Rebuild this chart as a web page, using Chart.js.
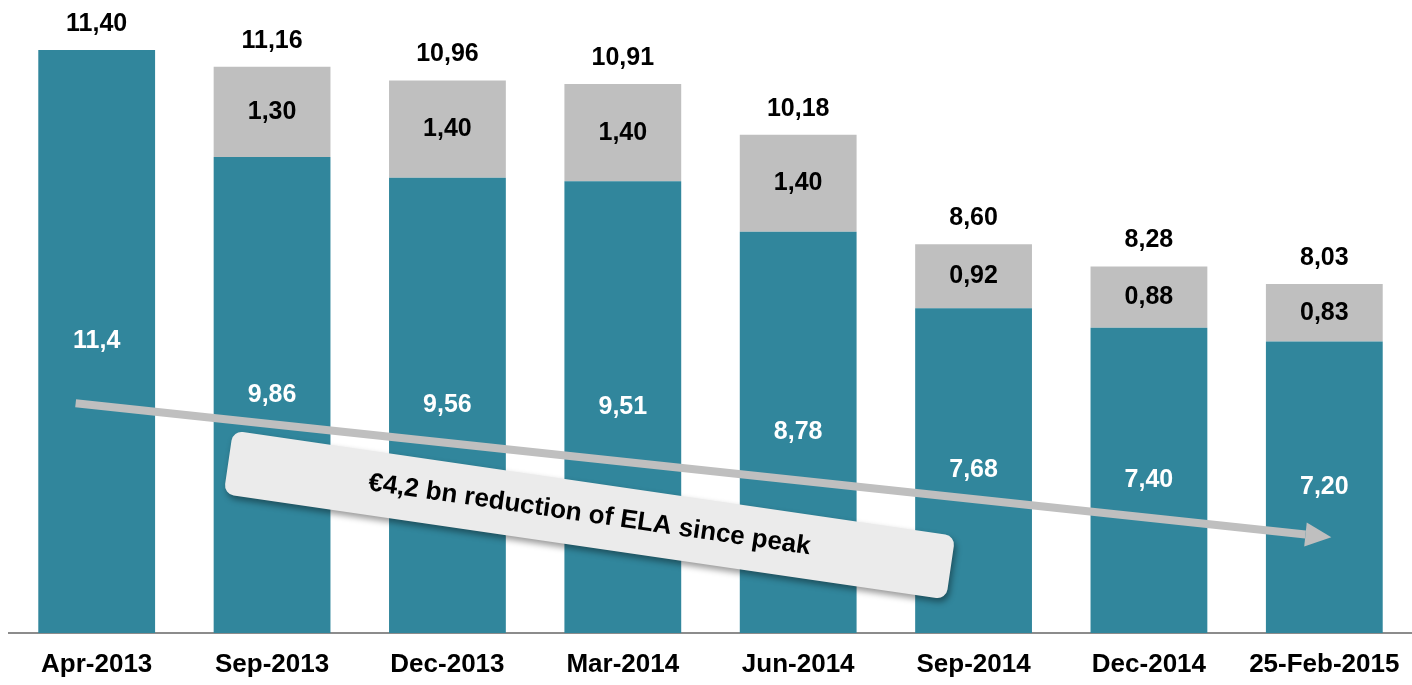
<!DOCTYPE html>
<html>
<head>
<meta charset="utf-8">
<script src="https://cdn.jsdelivr.net/npm/chart.js@4.4.1/dist/chart.umd.min.js"></script>
<style>
  html, body { margin: 0; padding: 0; background: #fff; }
  #wrap { width: 1412px; height: 685px; }
</style>
</head>
<body>
<div id="wrap"><canvas id="elaChart"></canvas></div>
<script>
// dados do gráfico (bn EUR)
const categories = ['Apr-2013', 'Sep-2013', 'Dec-2013', 'Mar-2014', 'Jun-2014', 'Sep-2014', 'Dec-2014', '25-Feb-2015'];
const tealValues = [11.4, 9.86, 9.56, 9.51, 8.78, 7.68, 7.40, 7.20];
const greyValues = [0, 1.30, 1.40, 1.40, 1.40, 0.92, 0.88, 0.83];
const tealDecimals = [1, 2, 2, 2, 2, 2, 2, 2];
const calloutText = '€4,2 bn reduction of ELA since peak';

const FONT = '"Liberation Sans", Arial, Helvetica, sans-serif';
const TEAL = '#31869c';
const GREY = '#bfbfbf';

function fmt(v, d) {
    return v.toFixed(d).replace('.', ',');
}

// rótulos das barras
const barLabels = {
    id: 'barLabels',
    afterDatasetsDraw(chart) {
        const ctx = chart.ctx;
        const bottom = chart.chartArea.bottom;
        const teal = chart.getDatasetMeta(0).data;
        const grey = chart.getDatasetMeta(1).data;
        ctx.save();
        ctx.textAlign = 'center';
        ctx.textBaseline = 'middle';
        ctx.font = 'bold 25px ' + FONT;
        teal.forEach((bar, i) => {
            ctx.fillStyle = '#fff';
            ctx.fillText(fmt(tealValues[i], tealDecimals[i]), bar.x, (bar.y + Math.min(bar.base, bottom)) / 2);
            const g = grey[i];
            ctx.fillStyle = '#000';
            if (greyValues[i] > 0) {
                ctx.fillText(fmt(greyValues[i], 2), g.x, (g.y + g.base) / 2);
            }
            const top = greyValues[i] > 0 ? g.y : bar.y;
            ctx.fillText(fmt(tealValues[i] + greyValues[i], 2), bar.x, top - 26);
        });
        ctx.restore();
    }
};

// seta e caixa de destaque
const trendCallout = {
    id: 'trendCallout',
    afterDraw(chart) {
        const ctx = chart.ctx;
        const x = chart.scales.x;
        const y = chart.scales.y;
        const x1 = x.getPixelForValue(-0.12), y1 = y.getPixelForValue(6.31);
        const x2 = x.getPixelForValue(7.04), y2 = y.getPixelForValue(4.38);
        const ang = Math.atan2(y2 - y1, x2 - x1);
        const headLen = 26, headW = 12;

        ctx.save();
        ctx.strokeStyle = GREY;
        ctx.fillStyle = GREY;
        ctx.lineWidth = 8;
        ctx.beginPath();
        ctx.moveTo(x1, y1);
        ctx.lineTo(x2 - headLen * Math.cos(ang), y2 - headLen * Math.sin(ang));
        ctx.stroke();
        ctx.translate(x2, y2);
        ctx.rotate(ang);
        ctx.beginPath();
        ctx.moveTo(0, 0);
        ctx.lineTo(-headLen, -headW);
        ctx.lineTo(-headLen, headW);
        ctx.closePath();
        ctx.fill();
        ctx.restore();

        // caixa
        const cx = x.getPixelForValue(2.81), cy = y.getPixelForValue(4.70);
        const w = 730, h = 64, r = 10;
        ctx.save();
        ctx.translate(cx, cy);
        ctx.rotate(8.3 * Math.PI / 180);
        ctx.shadowColor = 'rgba(0,0,0,0.4)';
        ctx.shadowBlur = 6;
        ctx.shadowOffsetX = 2;
        ctx.shadowOffsetY = 4;
        ctx.fillStyle = '#ebebeb';
        ctx.beginPath();
        ctx.roundRect(-w / 2, -h / 2, w, h, r);
        ctx.fill();
        ctx.shadowColor = 'transparent';
        ctx.fillStyle = '#000';
        ctx.font = 'bold 26px ' + FONT;
        ctx.textAlign = 'center';
        ctx.textBaseline = 'middle';
        ctx.fillText(calloutText, 0, 0);
        ctx.restore();
    }
};

new Chart(document.getElementById('elaChart'), {
    type: 'bar',
    data: {
        labels: categories,
        datasets: [
            { label: 'ELA', data: tealValues, backgroundColor: TEAL, stack: 's' },
            { label: 'Other', data: greyValues, backgroundColor: GREY, stack: 's' }
        ]
    },
    options: {
        responsive: true,
        maintainAspectRatio: false,
        animation: false,
        events: [],
        layout: { padding: { top: 8.4, left: 9, right: 0, bottom: 0 } },
        datasets: { bar: { categoryPercentage: 1, barPercentage: 0.666 } },
        plugins: {
            legend: { display: false },
            tooltip: { enabled: false }
        },
        scales: {
            x: {
                stacked: true,
                grid: { display: false },
                border: { display: true, color: '#8c8c8c', width: 2 },
                afterFit(scale) { scale.height = 52; },
                ticks: {
                    color: '#000',
                    padding: 8,
                    maxRotation: 0,
                    autoSkip: false,
                    font: { family: FONT, size: 26, weight: 'bold' }
                }
            },
            y: {
                // o eixo do original não começa em zero
                stacked: true,
                display: false,
                min: 3,
                max: 12
            }
        }
    },
    plugins: [barLabels, trendCallout]
});
</script>
</body>
</html>
